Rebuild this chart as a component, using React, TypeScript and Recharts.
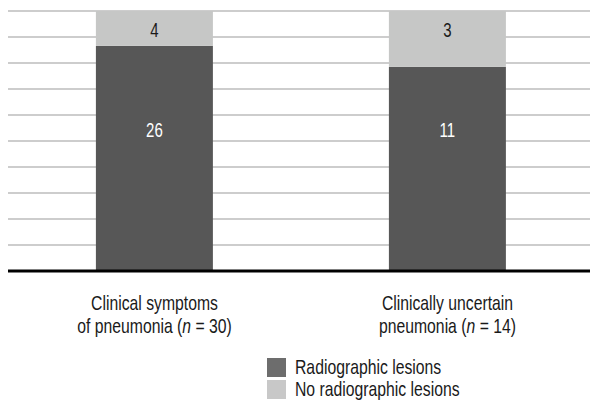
import { BarChart, Bar, XAxis, YAxis, CartesianGrid, Legend } from "recharts";

const categoryLines = [
  ["Clinical symptoms", "of pneumonia"],
  ["Clinically uncertain", "pneumonia"],
];
const groupSizes = [30, 14];
const radiographic = [26, 11];
const noRadiographic = [4, 3];
const percentTicks = [0, 0.1, 0.2, 0.3, 0.4, 0.5, 0.6, 0.7, 0.8, 0.9, 1];

// no condensed font installed, so squeeze Liberation Sans horizontally
const FONT = "'Liberation Sans', Arial, sans-serif";
const SQUEEZE = 0.75;
const squeezeAt = (x: number) => `translate(${x},0) scale(${SQUEEZE},1) translate(${-x},0)`;

const data = categoryLines.map((lines, i) => ({
  name: lines.join(" "),
  radio: radiographic[i],
  noRadio: noRadiographic[i],
}));

const CategoryTick = ({ x, y, index }: any) => (
  <text x={x} y={y} textAnchor="middle" fontFamily={FONT} fontSize={21} fill="#1a1a1a" transform={squeezeAt(x)}>
    <tspan x={x} dy={31}>{categoryLines[index][0]}</tspan>
    <tspan x={x} dy={23}>
      {categoryLines[index][1]} (<tspan fontStyle="italic">n</tspan> = {groupSizes[index]})
    </tspan>
  </text>
);

const barLabel = (values: number[], color: string, fromTop: boolean) => (props: any) => {
  const { x, y, width, height, index } = props;
  const cx = x + width / 2;
  const baseY = fromTop ? y + 26 : y + height - 134;
  return (
    <text x={cx} y={baseY} textAnchor="middle" fontFamily={FONT} fontSize={20} fill={color} transform={squeezeAt(cx)}>
      {values[index]}
    </text>
  );
};

const legendItems = [
  { label: "Radiographic lesions", color: "#6d6d6d" },
  { label: "No radiographic lesions", color: "#c8c8c8" },
];

const ChartLegend = () => (
  <div style={{ height: 60, paddingLeft: 259, paddingTop: 12, boxSizing: "border-box", fontFamily: FONT }}>
    {legendItems.map((item) => (
      <div key={item.label} style={{ display: "flex", alignItems: "center", height: 22, fontSize: 21, color: "#1a1a1a", whiteSpace: "nowrap" }}>
        <span style={{ width: 19, height: 19, background: item.color, marginRight: 9, display: "inline-block", flex: "none" }} />
        <span style={{ display: "inline-block", transform: `scaleX(${SQUEEZE})`, transformOrigin: "left center" }}>{item.label}</span>
      </div>
    ))}
  </div>
);

export default function App() {
  return (
    <div style={{ position: "fixed", left: 0, top: 0, background: "#fff" }}>
      <BarChart
        width={590}
        height={404}
        data={data}
        stackOffset="expand"
        barCategoryGap="30%"
        margin={{ top: 11, right: -4, bottom: 0, left: 8 }}
      >
        <CartesianGrid vertical={false} stroke="#bdbdbd" strokeWidth={1.5} />
        <YAxis hide domain={[0, 1]} ticks={percentTicks} />
        <XAxis
          dataKey="name"
          tickLine={false}
          axisLine={{ stroke: "#000", strokeWidth: 3 }}
          height={73}
          tick={<CategoryTick />}
          interval={0}
        />
        <Legend verticalAlign="bottom" content={<ChartLegend />} />
        <Bar dataKey="radio" stackId="a" fill="#575757" isAnimationActive={false} label={barLabel(radiographic, "#fff", false)} />
        <Bar dataKey="noRadio" stackId="a" fill="#c6c7c6" isAnimationActive={false} label={barLabel(noRadiographic, "#1a1a1a", true)} />
      </BarChart>
    </div>
  );
}
